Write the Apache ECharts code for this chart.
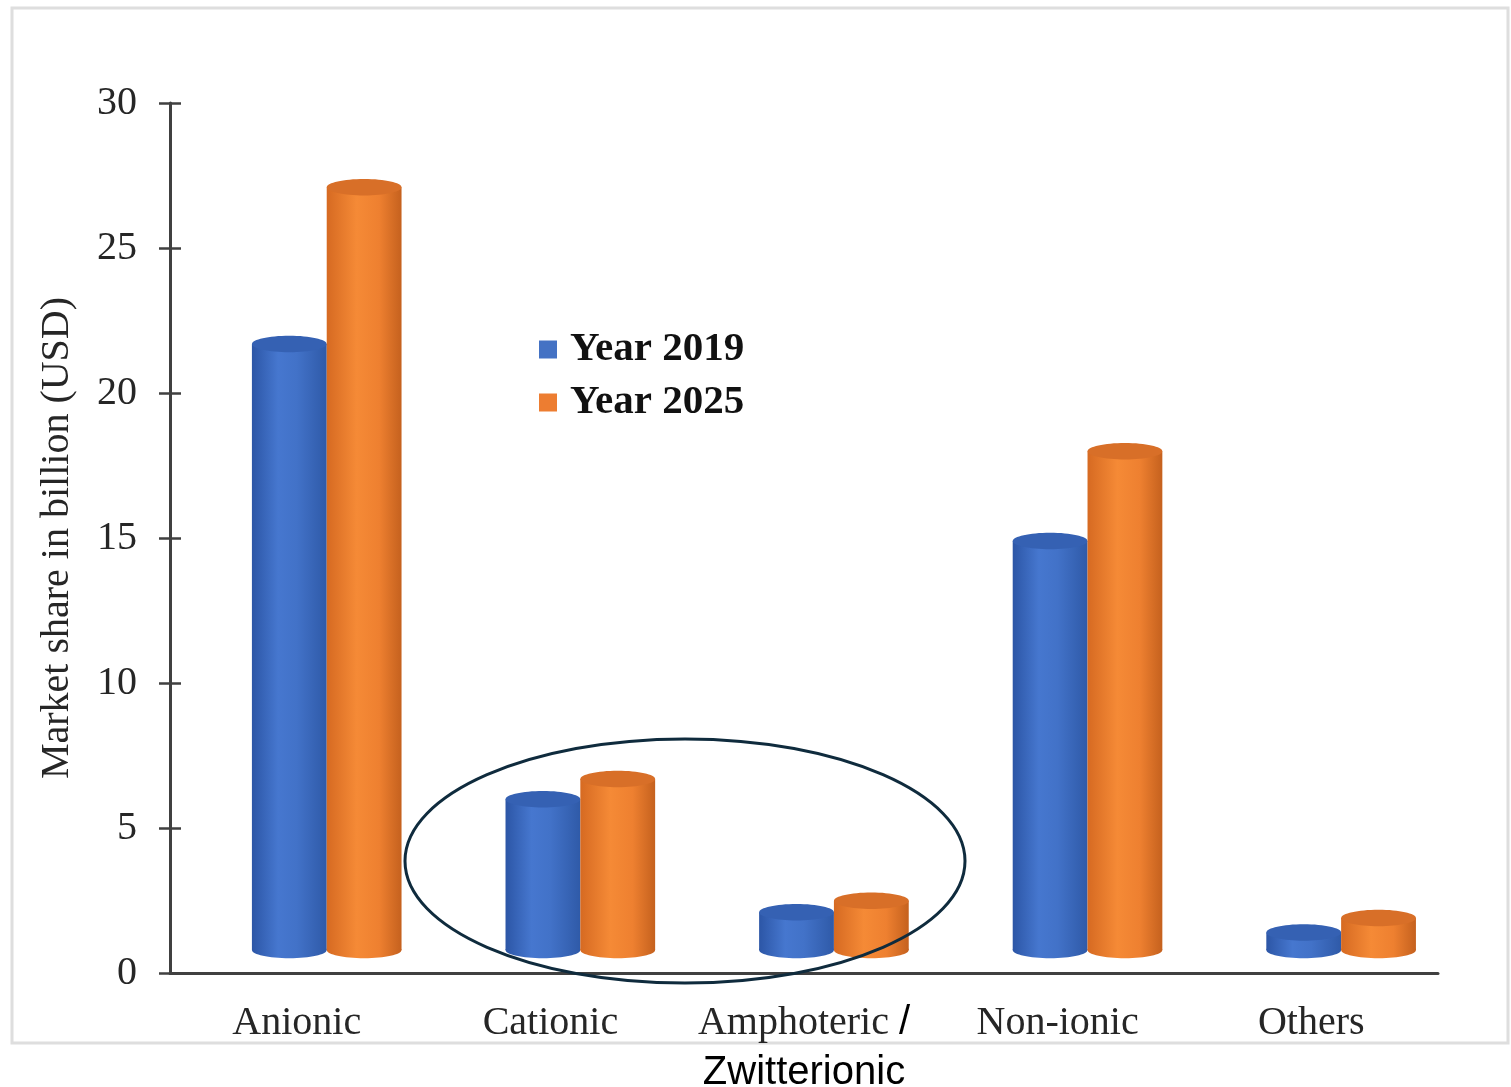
<!DOCTYPE html>
<html>
<head>
<meta charset="utf-8">
<script src="https://cdn.jsdelivr.net/npm/echarts@6/dist/echarts.min.js"></script>
<style>
html,body{margin:0;padding:0;background:#fff}
#chart{width:1511px;height:1087px}
</style>
</head>
<body>
<div id="chart"></div>
<script>
// data
var categories = ['Anionic', 'Cationic', 'Amphoteric /\nZwitterionic', 'Non-ionic', 'Others'];
var values2019 = [20.9, 5.2, 1.3, 14.1, 0.6];
var values2025 = [26.3, 5.9, 1.7, 17.2, 1.1];
var seriesNames = ['Year 2019', 'Year 2025'];
var yTicks = [0, 5, 10, 15, 20, 25, 30];

var serif = 'Liberation Serif, Times New Roman, serif';
var sans = 'Liberation Sans, Arial, sans-serif';

// one cylinder per data item, side = -1 (left of pair) or 1 (right)
function cylinder(stops, topColor, side) {
    return function (params, api) {
        var idx = api.value(0), val = api.value(1);
        var base = api.coord([idx, 0]);
        var top = api.coord([idx, val]);
        var band = api.size([1, 0])[0];
        var w = band * 0.295, rx = w / 2, ry = w * 0.11;
        var cx = base[0] + band * 0.118 + side * rx;
        var lift = 23; // 3D floor is raised above the axis line
        var yb = base[1] - lift, yt = top[1] - lift;
        var fill = {type: 'linear', x: 0, y: 0, x2: 1, y2: 0, colorStops: stops};
        return {
            type: 'group',
            children: [
                {type: 'ellipse', shape: {cx: cx, cy: yb, rx: rx, ry: ry}, style: {fill: fill}},
                {type: 'rect', shape: {x: cx - rx, y: yt, width: w, height: yb - yt}, style: {fill: fill}},
                {type: 'ellipse', shape: {cx: cx, cy: yt, rx: rx, ry: ry}, style: {fill: topColor}}
            ]
        };
    };
}

var blueStops = [
    {offset: 0, color: '#2c56a6'},
    {offset: 0.35, color: '#4677cf'},
    {offset: 0.6, color: '#4272c8'},
    {offset: 1, color: '#2f5aa8'}
];
var orangeStops = [
    {offset: 0, color: '#d66a22'},
    {offset: 0.4, color: '#f58a36'},
    {offset: 0.7, color: '#ee8030'},
    {offset: 1, color: '#c5611e'}
];

function toData(arr) {
    var out = [];
    for (var i = 0; i < arr.length; i++) out.push([i, arr[i]]);
    return out;
}

var yAxisBase = {
    type: 'value',
    min: yTicks[0],
    max: yTicks[yTicks.length - 1],
    interval: 5,
    splitLine: {show: false}
};

var option = {
    backgroundColor: '#fff',
    animation: false,
    grid: {left: 170, right: 73, top: 103, bottom: 114, containLabel: false, outerBoundsMode: 'none'},
    legend: {
        orient: 'vertical',
        left: 534,
        top: 324,
        itemWidth: 18,
        itemHeight: 18,
        itemGap: 12,
        icon: 'rect',
        data: seriesNames,
        textStyle: {
            fontFamily: serif,
            fontWeight: 'bold',
            fontSize: 41,
            color: '#111',
            lineHeight: 40,
            padding: [0, 0, 0, 8]
        }
    },
    xAxis: {
        type: 'category',
        data: categories,
        axisLine: {lineStyle: {color: '#404040', width: 3}},
        axisTick: {show: false},
        axisLabel: {
            margin: 25,
            interval: 0,
            formatter: function (v) {
                var parts = v.split('\n');
                if (parts.length > 1) {
                    var first = parts[0].replace(' /', '');
                    return '{a|' + first + ' }{s|/}\n{z|' + parts[1] + '}';
                }
                return '{a|' + v + '}';
            },
            rich: {
                a: {fontFamily: serif, fontSize: 40, color: '#262626', lineHeight: 50},
                s: {fontFamily: sans, fontSize: 40, color: '#000', lineHeight: 50},
                z: {fontFamily: sans, fontSize: 40, color: '#000', lineHeight: 50}
            }
        }
    },
    yAxis: [
        Object.assign({}, yAxisBase, {
            name: 'Market share in billion (USD)',
            nameLocation: 'middle',
            nameGap: 93,
            nameTextStyle: {fontFamily: serif, fontSize: 40, color: '#262626'},
            axisLine: {show: true, lineStyle: {color: '#404040', width: 3}},
            axisTick: {show: true, length: 11, lineStyle: {color: '#404040', width: 2.5}},
            axisLabel: {margin: 33, fontFamily: serif, fontSize: 40, color: '#262626'}
        }),
        Object.assign({}, yAxisBase, {
            position: 'left',
            axisLine: {show: false},
            axisTick: {show: true, inside: true, length: 11, lineStyle: {color: '#404040', width: 2.5}},
            axisLabel: {show: false}
        })
    ],
    series: [
        {
            name: seriesNames[0],
            type: 'custom',
            itemStyle: {color: '#4472c4'},
            renderItem: cylinder(blueStops, '#3561b3', -1),
            data: toData(values2019),
            encode: {x: 0, y: 1}
        },
        {
            name: seriesNames[1],
            type: 'custom',
            itemStyle: {color: '#ed7d31'},
            renderItem: cylinder(orangeStops, '#d86f28', 1),
            data: toData(values2025),
            encode: {x: 0, y: 1}
        }
    ],
    graphic: [
        {
            type: 'rect',
            z: 0,
            shape: {x: 12, y: 8, width: 1496, height: 1035},
            style: {fill: 'none', stroke: '#dedede', lineWidth: 3}
        },
        {
            type: 'ellipse',
            z: 100,
            shape: {cx: 685, cy: 861, rx: 280, ry: 122},
            style: {fill: 'none', stroke: '#0f2b3d', lineWidth: 3}
        }
    ]
};

var chart = echarts.init(document.getElementById('chart'));
chart.setOption(option);
</script>
</body>
</html>
